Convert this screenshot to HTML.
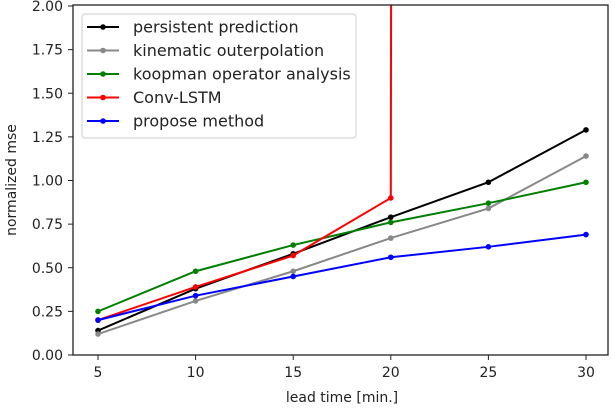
<!DOCTYPE html>
<html><head><meta charset="utf-8"><style>
body{margin:0;background:#fff;}
svg text{font-family:"DejaVu Sans","Liberation Sans",sans-serif;fill:#222;}
</style></head><body>
<svg id="chart" width="612" height="408">
<defs><clipPath id="clip"><rect x="73" y="5" width="535" height="350"/></clipPath></defs>
<g id="grid"></g>
<g id="series" clip-path="url(#clip)"></g>
<rect x="73" y="5" width="535" height="350" fill="none" stroke="#222" stroke-width="1.3"/>
<g id="axes"></g>
<text x="342" y="402" font-size="14" text-anchor="middle">lead time [min.]</text>
<text transform="translate(16,180) rotate(-90)" font-size="14" text-anchor="middle">normalized mse</text>
<g id="legend"></g>
</svg>
<script>
const categories=[5,10,15,20,25,30];
const persistent=[0.14,0.38,0.58,0.79,0.99,1.29];
const kinematic=[0.12,0.31,0.48,0.67,0.84,1.14];
const koopman=[0.25,0.48,0.63,0.76,0.87,0.99];
const convlstm=[0.20,0.39,0.57,0.90,400,600];
const propose=[0.20,0.34,0.45,0.56,0.62,0.69];
const xTicks=[5,10,15,20,25,30];
const yTicks=[0,0.25,0.5,0.75,1.0,1.25,1.5,1.75,2.0];
const NS="http://www.w3.org/2000/svg";
function xs(v){return 98+(v-5)*(586-98)/25;}
function ys(v){return 355-v*(355-6)/2;}
function mk(t,a,p){const e=document.createElementNS(NS,t);for(const k in a)e.setAttribute(k,a[k]);p.appendChild(e);return e;}
const axes=document.getElementById('axes');
xTicks.forEach(t=>{
 const l=mk('line',{x1:xs(t),x2:xs(t),y1:355,y2:360,stroke:'#222'},axes);
 
 
 const tx=mk('text',{x:xs(t),y:377,'font-size':14,'text-anchor':'middle'},axes);tx.textContent=t;
 
 
});
yTicks.forEach(t=>{
 const l=mk('line',{x1:68,x2:73,y1:ys(t),y2:ys(t),stroke:'#222'},axes);
 
 
 const tx=mk('text',{x:63,y:ys(t)+5,'font-size':14,'text-anchor':'end'},axes);tx.textContent=t.toFixed(2);
 
 
});
const series=[["persistent prediction",persistent,"#000"],["kinematic outerpolation",kinematic,"#888"],["koopman operator analysis",koopman,"#008000"],["Conv-LSTM",convlstm,"#ff0000"],["propose method",propose,"#0000ff"]];
const sg=document.getElementById('series');
series.forEach(([n,d,c])=>{
 const pl=mk('polyline',{points:d.map((v,i)=>xs(categories[i])+','+ys(v)).join(' '),fill:'none',stroke:c,'stroke-width':2},sg);
 
 
 d.forEach((v,i)=>{const m=mk('circle',{cx:xs(categories[i]),cy:ys(v),r:2.8,fill:c},sg);
  
  });
});
const lg=document.getElementById('legend');
const box=mk('rect',{x:82,y:14,width:274,height:124,rx:3,fill:'#fff',stroke:'#ccc'},lg);


series.forEach(([n,d,c],i)=>{
 const y=27+i*23.5;
 mk('line',{x1:87,x2:119,y1:y,y2:y,stroke:c,'stroke-width':2},lg);
 mk('circle',{cx:103,cy:y,r:2.8,fill:c},lg);
 const t=mk('text',{x:133,y:y+5.5,'font-size':16},lg);t.textContent=n;
 
 
});
</script>
</body></html>
